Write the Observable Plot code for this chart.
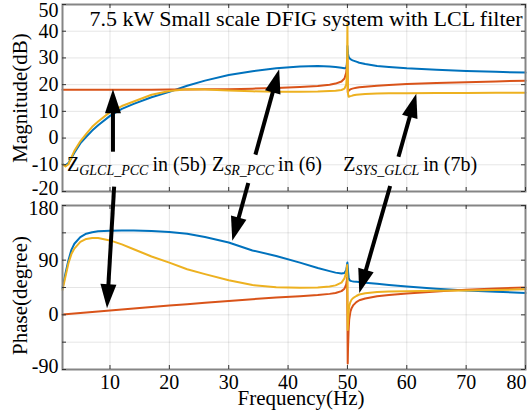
<!DOCTYPE html>
<html><head><meta charset="utf-8">
<script src="https://cdn.jsdelivr.net/npm/d3@7"></script>
<script src="https://cdn.jsdelivr.net/npm/@observablehq/plot@0.6"></script>
<style>
body{margin:0;background:#fff;}
#chart{position:relative;width:532px;height:416px;overflow:hidden;background:#fff;}
#chart svg{position:absolute;left:0;overflow:visible;}
</style></head><body><div id="chart"></div>
<script>
// ---- data ----
const freq = [2,2.5,3,3.5,4,5,6,7,8,10,12,14,17,20,23,26,30,34,38,42,45,47,48,49,49.5,49.8,49.9,49.95,50,50.05,50.1,50.2,50.3,50.5,50.7,51,51.5,52,53,55,57,60,65,70,75,80];
// Z_SR_PCC (blue)
const zsrMag = [-9.8,-10.2,-9.3,-7.5,-5.5,-2,0.5,2.8,4.8,8.3,10.9,12.8,15.3,17.3,19.6,21.5,23.6,25,26.1,26.8,27,26.8,26.6,26.3,26.1,26.3,27.5,30,34.5,33,31.5,30.5,30,29.6,29.3,29,28.6,28.2,27.7,27,26.6,26.1,25.6,25.1,24.8,24.5];
// Z_GLCL_PCC (orange)
const zglclMag = [18.1,18.1,18.1,18.1,18.1,18.1,18.1,18.1,18.1,18.1,18.1,18.1,18.1,18.2,18.2,18.3,18.3,18.5,18.7,19.1,19.5,20,20.4,21.2,22.3,24.5,27,29,30,17.2,17.4,17.7,17.9,18.2,18.4,18.6,18.8,19,19.2,19.6,19.9,20.2,20.6,20.9,21.2,21.5];
// Z_SYS_GLCL (yellow)
const zsysMag = [-9.8,-10.6,-9.8,-7.2,-4.8,-1.2,1.6,4.2,6.2,9.7,12,13.7,16.2,17.6,18.3,18.2,17.8,17.5,17.3,17.3,17.4,17.6,17.7,18,18.5,20,23,30,43,25,16.5,15.5,15.5,15.7,15.8,16,16.2,16.3,16.5,16.7,16.8,16.8,16.9,16.9,17,17];
const zsrPhase = [44,68,90,107,117,128,133.5,136,137.5,138.5,139,139,138,136.5,133.5,128,119,106,97,86,77,72,69.5,68,69,74,80,84,86,80,72,62,58,56,55.5,55,54.5,54,53,51,49,46.5,43,40,38,36];
const zglclPhase = [0.5,1,1.4,1.8,2.2,3,3.8,4.6,5.4,7.2,8.8,10.4,12.8,15.2,17.5,19.8,22.8,25.7,28.5,30.5,32.5,34.5,36,39,43,50,57,62,0,-80,-55,-25,-8,5,11,16,21,24,27,30.5,32.5,35,38.5,41.5,43.5,45];
const zsysPhase = [41,63,85,100,109,120,125,126.5,126.5,122.5,116,108,96,86,75,67,57,49,45.5,44.5,44.8,46.5,48.5,53,60,70,76,82,60,-25,-12,5,14,21,25,28,31,33.5,35.5,37.5,38.5,39,39.5,40,41,42];

const xTicks = [10,20,30,40,50,60,70,80];
const magTicks = [-20,-10,0,10,20,30,40,50];
const phaseTicks = [-90,-45,0,45,90,135,180];
const phaseLabels = [-90,0,90,180];

const titleText = "7.5 kW Small scale DFIG system with LCL filter";
const xLabel = "Frequency(Hz)";
const magLabel = "Magnitude(dB)";
const phaseLabel = "Phase(degree)";

const annots = [
  {x: 2.75, y: -12.5, main: "Z", sub: "GLCL_PCC", rest: "in (5b)"},
  {x: 27.2, y: -12.5, main: "Z", sub: "SR_PCC", rest: "in (6)"},
  {x: 49.3, y: -12.5, main: "Z", sub: "SYS_GLCL", rest: "in (7b)"}
];
const arrowsMag = [
  {x1: 10.5, y1: -5.1, x2: 10.5, y2: 18.3},
  {x1: 34.5, y1: -6.2, x2: 38.5, y2: 25.8},
  {x1: 58.6, y1: -7.0, x2: 61.6, y2: 16.6}
];
const arrowsPhase = [
  {x1: 10.7, y1: 211, x2: 9.5, y2: 11},
  {x1: 33.3, y1: 217, x2: 30.6, y2: 122},
  {x1: 57.2, y1: 212, x2: 52, y2: 36}
];

const colors = {sr: "#0072BD", glcl: "#D95319", sys: "#EDB120"};

// ---- layout ----
const W = 532, ML = 62, MR = 7;
const topH = 195, topMT = 4, topMB = 4;
const botH = 216, botMT = 5, botMB = 47, botOffset = 200;
const xDomain = [2, 80];
const magDomain = [-20, 50];
const phaseDomain = [-90, 180];
const font = "'Liberation Serif','Times New Roman',serif";
const frameW = W - ML - MR;

const headSymbol = {draw(ctx) { ctx.moveTo(0, 0); ctx.lineTo(8, 24); ctx.lineTo(-8, 24); ctx.closePath(); }};

function prepArrows(arrows, yDomain, yRange) {
  const xs = Plot.scale({x: {domain: xDomain, range: [ML, W - MR]}});
  const ys = Plot.scale({y: {domain: yDomain, range: yRange}});
  return arrows.map(a => {
    const dxp = xs.apply(a.x2) - xs.apply(a.x1);
    const dyp = ys.apply(a.y2) - ys.apply(a.y1);
    const L = Math.hypot(dxp, dyp);
    const k = 1 - 12 / L;
    return {...a, sx2: a.x1 + (a.x2 - a.x1) * k, sy2: a.y1 + (a.y2 - a.y1) * k,
            angle: Math.atan2(dxp, -dyp) * 180 / Math.PI};
  });
}

function tickMarks(yTicks, frameH) {
  return [
    Plot.tickX(xTicks, {x: d => d, insetTop: frameH - 4, stroke: "#333"}),
    Plot.tickX(xTicks, {x: d => d, insetBottom: frameH - 4, stroke: "#333"}),
    Plot.tickY(yTicks, {y: d => d, insetRight: frameW - 4, stroke: "#333"}),
    Plot.tickY(yTicks, {y: d => d, insetLeft: frameW - 4, stroke: "#333"})
  ];
}

function lines(a, b, c) {
  return [
    Plot.line(a, {x: freq, y: d => d, stroke: colors.sr, strokeWidth: 2}),
    Plot.line(b, {x: freq, y: d => d, stroke: colors.glcl, strokeWidth: 2}),
    Plot.line(c, {x: freq, y: d => d, stroke: colors.sys, strokeWidth: 2})
  ];
}

function arrowMarks(arr) {
  return [
    Plot.link(arr, {x1: "x1", y1: "y1", x2: "sx2", y2: "sy2", stroke: "black", strokeWidth: 4}),
    Plot.dot(arr, {x: "x2", y: "y2", symbol: headSymbol, rotate: "angle", fill: "black", stroke: "none", r: 10})
  ];
}

// dyLow shifts the lowest label, dyHigh the highest one
function yLabels(ticks, dyLow, dyHigh) {
  const fmt = d => String(d);
  const opts = {tickSize: 0, tickPadding: 4, fontSize: 20, tickFormat: fmt, label: null};
  return [
    Plot.axisY(ticks.slice(1, -1), opts),
    Plot.axisY(ticks.slice(0, 1), {...opts, dy: dyLow}),
    Plot.axisY(ticks.slice(-1), {...opts, dy: dyHigh})
  ];
}

const topFrameH = topH - topMT - topMB;
const botFrameH = botH - botMT - botMB;
const arrM = prepArrows(arrowsMag, magDomain, [topMT + topFrameH, topMT]);
const arrP = prepArrows(arrowsPhase, phaseDomain, [botMT + botFrameH, botMT]);

const style = {fontFamily: font, background: "transparent", overflow: "visible", color: "black"};

const topPlot = Plot.plot({
  width: W, height: topH, marginLeft: ML, marginRight: MR, marginTop: topMT, marginBottom: topMB,
  style,
  x: {domain: xDomain, axis: null},
  y: {domain: magDomain, axis: null},
  marks: [
    Plot.gridX(xTicks, {stroke: "#000", strokeOpacity: 0.1}),
    Plot.gridY(magTicks, {stroke: "#000", strokeOpacity: 0.1}),
    ...lines(zsrMag, zglclMag, zsysMag),
    Plot.frame({stroke: "#858585", strokeWidth: 2}),
    ...tickMarks(magTicks, topFrameH),
    ...yLabels(magTicks, -3, 6),
    Plot.text([titleText], {frameAnchor: "top", dx: 12, dy: 21, lineAnchor: "bottom", fontSize: 22}),
    Plot.text([magLabel], {frameAnchor: "left", textAnchor: "middle", rotate: -90, dx: -42, fontSize: 21}),
    Plot.text(annots, {x: "x", y: "y", text: d => d.main + d.sub + d.rest, textAnchor: "start", lineAnchor: "bottom", fontSize: 20}),
    ...arrowMarks(arrM)
  ]
});

const xOpts = {tickSize: 0, tickPadding: 5, fontSize: 20, tickFormat: d => String(d), label: null};
const botPlot = Plot.plot({
  width: W, height: botH, marginLeft: ML, marginRight: MR, marginTop: botMT, marginBottom: botMB,
  style,
  x: {domain: xDomain, axis: null},
  y: {domain: phaseDomain, axis: null},
  marks: [
    Plot.gridX(xTicks, {stroke: "#000", strokeOpacity: 0.1}),
    Plot.gridY(phaseTicks, {stroke: "#000", strokeOpacity: 0.1}),
    ...lines(zsrPhase, zglclPhase, zsysPhase),
    Plot.frame({stroke: "#858585", strokeWidth: 2}),
    ...tickMarks(phaseTicks, botFrameH),
    ...yLabels(phaseLabels, -3, 3),
    Plot.axisX(xTicks.slice(0, -1), xOpts),
    Plot.axisX(xTicks.slice(-1), {...xOpts, textAnchor: "end", dx: 1}),
    Plot.text([xLabel], {frameAnchor: "bottom", textAnchor: "middle", dx: 7, dy: 35, lineAnchor: "bottom", fontSize: 21}),
    Plot.text([phaseLabel], {frameAnchor: "left", textAnchor: "middle", rotate: -90, dx: -42, dy: 8, fontSize: 21}),
    ...arrowMarks(arrP)
  ]
});

// subscripts in annotations
d3.select(topPlot).selectAll("text").filter(function() { return /^Z/.test(this.textContent); }).each(function() {
  const txt = this.textContent;
  const a = annots.find(d => d.main + d.sub + d.rest === txt);
  if (!a) return;
  const t = d3.select(this);
  t.text(null);
  t.append("tspan").text(a.main);
  t.append("tspan").attr("font-size", 14).attr("font-style", "italic").attr("dy", 3.5).text(a.sub);
  t.append("tspan").attr("dy", -3.5).attr("dx", 4).text(a.rest);
});

const chart = document.getElementById("chart");
topPlot.style.top = "0px";
botPlot.style.top = botOffset + "px";
chart.appendChild(topPlot);
chart.appendChild(botPlot);
</script></body></html>
